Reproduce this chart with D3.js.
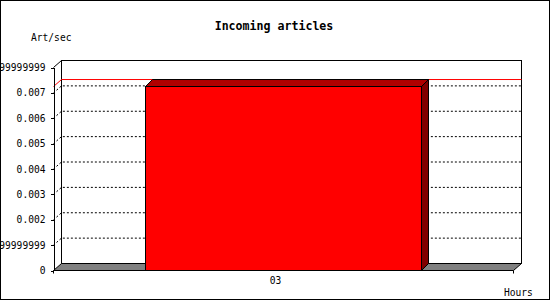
<!DOCTYPE html>
<html>
<head>
<meta charset="utf-8">
<script src="https://cdn.jsdelivr.net/npm/d3@7"></script>
<style>
  body { margin: 0; background: #fff; }
  text { font-family: "DejaVu Sans Mono", monospace; fill: #000; }
</style>
</head>
<body>
<div id="canvasRoot"></div>
<script>
// data
const hours = ["03"];
const artPerSec = [0.00725];
const yTicks = [0, 0.001, 0.002, 0.003, 0.004, 0.005, 0.006, 0.007, 0.008];
const yTickLabels = ["0", "0.00099999999", "0.002", "0.003", "0.004", "0.005", "0.006", "0.007", "0.00799999999"];

const W = 550, H = 300;
// 3d offsets: walls and bars
const [wdx, wdy] = [8, 7];
const [bdx, bdy] = [7, 7];

let svg = d3.select("#canvasRoot").append("svg")
  .attr("width", W).attr("height", H);

//Outer frame
svg.append("rect")
  .attr("x", 0.5).attr("y", 0.5).attr("width", W - 1).attr("height", H - 1)
  .attr("fill", "#fff").attr("stroke", "#000");

//Scales
let xScale = d3.scaleBand()
  .domain(hours)
  .range([53, 513])
  .padding(0.25);
let yScale = d3.scaleLinear()
  .domain([0, 0.008])
  .range([270, 67]);

let y0 = yScale(0), yTop = yScale(0.008);
let [xl, xr] = xScale.range();
let line = d3.line();

let gr = svg.append("g").attr("transform", "translate(0.5,0.5)");

//Back wall
gr.append("rect")
  .attr("x", xl + wdx).attr("y", yTop - wdy)
  .attr("width", xr - xl).attr("height", y0 - yTop)
  .attr("fill", "#fff").attr("stroke", "#000")
  .attr("shape-rendering", "crispEdges");

//Left wall top edge
gr.append("path")
  .attr("d", line([[xl, yTop], [xl + wdx, yTop - wdy]]))
  .attr("stroke", "#000").attr("fill", "none");

//Grid lines (dotted, on left wall and back wall)
gr.selectAll("path.grid")
  .data(yTicks.filter(d => d > 0 && d < 0.008))
  .enter()
    .append("path")
    .classed("grid", true)
    .attr("d", d => line([[xl, yScale(d)], [xl + wdx, yScale(d) - wdy], [xr + wdx, yScale(d) - wdy]]))
    .attr("stroke", "#000").attr("fill", "none")
    .attr("stroke-dasharray", "2,2");

//Value line on the back wall
gr.selectAll("path.vline")
  .data(artPerSec)
  .enter()
    .append("path")
    .classed("vline", true)
    .attr("d", d => line([[xl, yScale(d)], [xl + wdx, yScale(d) - wdy], [xr + wdx, yScale(d) - wdy]]))
    .attr("stroke", "#f00").attr("fill", "none");

//Floor
gr.append("path")
  .attr("d", line([[xl, y0], [xr, y0], [xr + wdx, y0 - wdy], [xl + wdx, y0 - wdy]]) + "Z")
  .attr("fill", "#808080").attr("stroke", "#000");

//Bars
let barGs = gr.selectAll("g.bar")
  .data(hours.map((h, i) => ({ h, v: artPerSec[i] })))
  .enter()
    .append("g")
    .classed("bar", true);

barGs.append("path") //side
  .attr("d", d => {
    let x1 = xScale(d.h) + xScale.bandwidth(), yv = yScale(d.v);
    return line([[x1, yv], [x1 + bdx, yv - bdy], [x1 + bdx, y0 - bdy], [x1, y0]]) + "Z";
  })
  .attr("fill", "#800000").attr("stroke", "#000");

barGs.append("path") //top
  .attr("d", d => {
    let x0 = xScale(d.h), x1 = x0 + xScale.bandwidth(), yv = yScale(d.v);
    return line([[x0, yv], [x0 + bdx, yv - bdy], [x1 + bdx, yv - bdy], [x1, yv]]) + "Z";
  })
  .attr("fill", "#b00000").attr("stroke", "#000");

barGs.append("rect") //front
  .attr("x", d => xScale(d.h))
  .attr("y", d => yScale(d.v))
  .attr("width", xScale.bandwidth())
  .attr("height", d => y0 - yScale(d.v))
  .attr("fill", "#f00").attr("stroke", "#000")
  .attr("shape-rendering", "crispEdges");

//Y axis
let yAxis = d3.axisLeft(yScale)
  .tickValues(yTicks)
  .tickFormat((_, i) => yTickLabels[i])
  .tickSizeInner(3).tickSizeOuter(0).tickPadding(5);
let yg = gr.append("g")
  .attr("transform", `translate(${xl},0)`)
  .call(yAxis);
yg.select(".domain").attr("stroke", "#000").attr("shape-rendering", "crispEdges");
yg.selectAll(".tick line").attr("stroke", "#000").attr("shape-rendering", "crispEdges");
yg.selectAll(".tick text")
  .attr("font-family", "DejaVu Sans Mono").attr("font-size", "9.6px").attr("fill", "#000");
//short tick below the axis
yg.append("path").attr("d", line([[0, y0], [0, y0 + 3]])).attr("stroke", "#000");

//X axis
let xg = gr.append("g");
xg.append("path").attr("d", line([[xr, y0], [xr, y0 + 3]])).attr("stroke", "#000");
xg.selectAll("text")
  .data(hours)
  .enter()
    .append("text")
    .attr("x", d => xScale(d) + xScale.bandwidth() / 2 - 8)
    .attr("y", 283)
    .attr("text-anchor", "middle")
    .attr("font-size", "9.6px")
    .text(d => d);

//Titles
svg.append("text")
  .attr("x", 274).attr("y", 30)
  .attr("text-anchor", "middle")
  .attr("font-weight", "bold").attr("font-size", "11.6px")
  .text("Incoming articles");
svg.append("text")
  .attr("x", 31).attr("y", 41)
  .attr("font-size", "9.6px")
  .text("Art/sec");
svg.append("text")
  .attr("x", 504).attr("y", 296)
  .attr("font-size", "9.6px")
  .text("Hours");
</script>
</body>
</html>
